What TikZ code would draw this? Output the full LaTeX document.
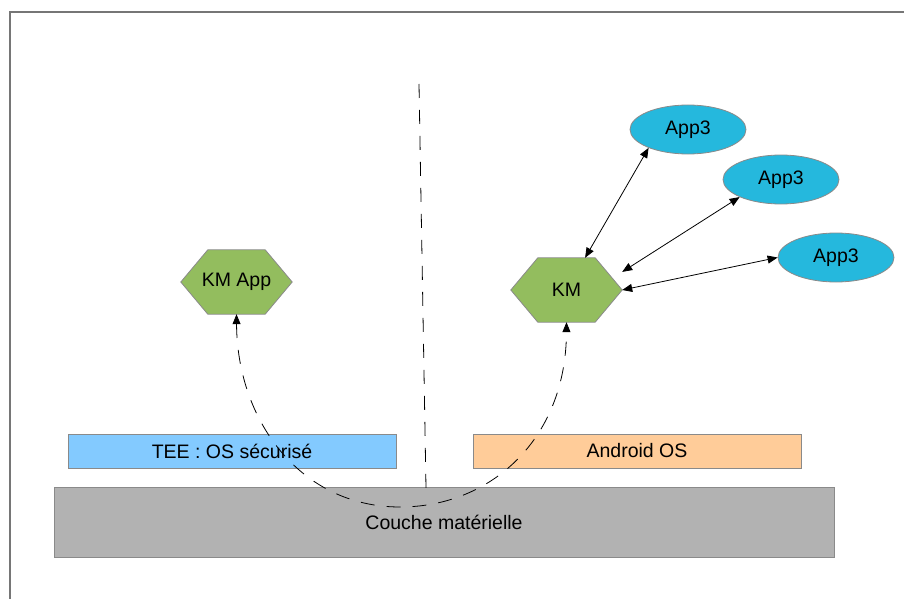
\documentclass[tikz,border=0pt]{standalone}
\usepackage{fontspec}
\setmainfont{Liberation Sans}
\usetikzlibrary{shapes.geometric,arrows.meta,backgrounds}

\definecolor{framegray}{HTML}{767676}
\definecolor{edgegray}{HTML}{8A8A8A}
\definecolor{hexgreen}{HTML}{93BD5E}
\definecolor{appcyan}{HTML}{25B8DD}
\definecolor{teeblue}{HTML}{83CAFF}
\definecolor{droidpeach}{HTML}{FFCC99}
\definecolor{hwgray}{HTML}{B2B2B2}

\tikzset{
  lbl/.style={font=\fontsize{19.5}{23}\selectfont, text=black, inner sep=0pt},
  hexnode/.style={lbl, minimum width=111pt, minimum height=64pt},
  hexshape/.style={fill=hexgreen, draw=edgegray, line width=0.8pt},
  appnode/.style={lbl, ellipse, fill=appcyan, draw=edgegray, line width=0.8pt,
                  minimum width=116pt, minimum height=49pt},
  layer/.style={lbl, draw=edgegray, line width=0.8pt, minimum height=34pt},
  link/.style={line width=0.8pt, {Triangle[length=10pt,width=8pt]}-{Triangle[length=10pt,width=8pt]}},
  flow/.style={line width=0.8pt, dash pattern=on 14pt off 12pt,
               {Triangle[length=10pt,width=8pt]}-{Triangle[length=10pt,width=8pt]}},
  split/.style={line width=0.8pt, dash pattern=on 14pt off 12pt}
}

\newcommand{\hexoutline}[1]{%
  \path[hexshape] (#1.west) -- ([xshift=27pt]#1.north west) -- ([xshift=-27pt]#1.north east)
    -- (#1.east) -- ([xshift=-27pt]#1.south east) -- ([xshift=27pt]#1.south west) -- cycle;}

\begin{document}
\begin{tikzpicture}[x=1pt,y=-1pt]
  \useasboundingbox (0,0) rectangle (904,599);

  % page frame (only its left and top edges fall inside)
  \draw[framegray, line width=1.3pt] (10,599.5) -- (10,12) -- (904.5,12);

  % layers
  \node[layer, fill=hwgray, minimum width=780pt, minimum height=70pt] (hw) at (444,522) {Couche matérielle};
  \node[layer, fill=teeblue, minimum width=328pt] (tee) at (232,451) {TEE : OS sécurisé};
  \node[layer, fill=droidpeach, minimum width=328pt] (droid) at (637,451) {Android OS};

  % key managers
  \node[hexnode] (kmapp) at (236.5,282) {KM App};
  \node[hexnode] (km) at (566.5,290) {KM};
  \begin{scope}[on background layer]
    \hexoutline{kmapp}
    \hexoutline{km}
  \end{scope}

  % applications
  \node[appnode] (appa) at (688,129.5) {App3};
  \node[appnode] (appb) at (781,179.5) {App3};
  \node[appnode] (appc) at (836,257.5) {App3};

  % links between KM and the applications
  \draw[link] (km.60) -- (appa.205);
  \draw[link] (km.18) -- (appb.203);
  \draw[link] (km.east) -- (appc.west);

  % separation between secure and normal worlds
  \coordinate (sepTop) at (419,84);
  \coordinate (sepBot) at (426,488);
  \draw[split] (sepTop) -- (sepBot);

  % path through the hardware layer
  \coordinate (dip) at (400,507);
  \draw[flow] (kmapp.south) .. controls (237,420) and (300,507) .. (dip)
              .. controls (490,507) and (566,440) .. (km.south);
\end{tikzpicture}
\end{document}
